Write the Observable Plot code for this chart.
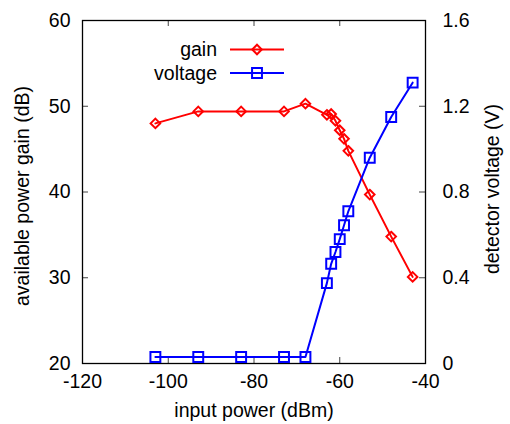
<!DOCTYPE html>
<html><head><meta charset="utf-8">
<script src="https://cdn.jsdelivr.net/npm/d3@7"></script>
<script src="https://cdn.jsdelivr.net/npm/@observablehq/plot@0.6"></script>
<style>body{margin:0;background:#fff}</style>
</head><body><div id="chart"></div>
<script>
// Data
const inputPower = [-103, -93, -83, -73, -68, -63, -62, -61, -60, -59, -58, -53, -48, -43];
const gain =       [48.0, 49.4, 49.4, 49.4, 50.3, 49.0, 49.1, 48.3, 47.2, 46.2, 44.8, 39.7, 34.8, 30.1];
const voltage =    [0.03, 0.03, 0.03, 0.03, 0.03, 0.375, 0.465, 0.52, 0.58, 0.645, 0.71, 0.96, 1.15, 1.31];
const xTicks = [-120, -100, -80, -60, -40];
const gainTicks = [20, 30, 40, 50, 60];
const voltTicks = [0, 0.4, 0.8, 1.2, 1.6];
const seriesNames = ["gain", "voltage"];
const xLabel = "input power (dBm)";
const yLabel = "available power gain (dB)";
const y2Label = "detector voltage (V)";

// voltage axis [0,1.6] mapped onto gain axis [20,60]
const toGainUnits = v => 20 + v * 25;
const fromGainUnits = g => (g - 20) / 25;
const fmtV = v => Math.abs(v) < 1e-9 ? "0" : (Math.round(v * 10) / 10).toFixed(1);

const data = inputPower.map((x, i) => ({x, gain: gain[i], v: toGainUnits(voltage[i])}));

const W = 510, H = 424, mL = 82, mR = 85, mT = 20, mB = 61;
const pw = W - mL - mR, ph = H - mT - mB;
const tk = 6;
const FS = 19.5;
const font = "'Liberation Sans', Arial, Helvetica, sans-serif";

const chart = Plot.plot({
  width: W, height: H,
  marginLeft: mL, marginRight: mR, marginTop: mT, marginBottom: mB,
  style: {fontFamily: font, fontSize: FS + "px", background: "white", color: "black", overflow: "visible"},
  x: {domain: [-120, -40]},
  y: {domain: [20, 60]},
  marks: [
    Plot.ruleY(gainTicks, {insetRight: pw - tk, stroke: "#444"}),
    Plot.ruleY(gainTicks, {insetLeft: pw - tk, stroke: "#444"}),
    Plot.ruleX(xTicks, {insetTop: ph - tk, stroke: "#444"}),
    Plot.ruleX(xTicks, {insetBottom: ph - tk, stroke: "#444"}),
    Plot.frame({stroke: "black", strokeWidth: 1.3}),
    Plot.axisX({ticks: xTicks, tickFormat: d => String(d), tickSize: 0, tickPadding: 11, label: null, fontSize: FS}),
    Plot.axisY({anchor: "left", ticks: gainTicks, tickFormat: d => String(d), tickSize: 0, tickPadding: 12, label: null, fontSize: FS}),
    Plot.axisY({anchor: "right", ticks: voltTicks.map(toGainUnits), tickFormat: d => fmtV(fromGainUnits(d)),
                tickSize: 0, tickPadding: 17, label: null, fontSize: FS}),
    Plot.line(data, {x: "x", y: "gain", stroke: "#ff0000", strokeWidth: 2}),
    Plot.dot(data, {x: "x", y: "gain", symbol: "diamond2", r: 4.3, stroke: "#ff0000", strokeWidth: 2}),
    Plot.line(data, {x: "x", y: "v", stroke: "#0000ff", strokeWidth: 2}),
    Plot.dot(data, {x: "x", y: "v", symbol: "square2", r: 6.3, stroke: "#0000ff", strokeWidth: 2}),
    Plot.text([xLabel], {text: d => d, frameAnchor: "bottom", dy: 47, lineAnchor: "middle", fontSize: FS}),
    Plot.text([yLabel], {text: d => d, frameAnchor: "left", dx: -60, dy: 4, rotate: -90, lineAnchor: "middle", textAnchor: "middle", fontSize: FS}),
    Plot.text([y2Label], {text: d => d, frameAnchor: "right", dx: 67, dy: -3, rotate: -90, lineAnchor: "middle", textAnchor: "middle", fontSize: FS})
  ]
});

// Legend
const svg = d3.select(chart);
const legendItems = [
  {name: seriesNames[0], color: "#ff0000", symbol: d3.symbolDiamond2, r: 4.3},
  {name: seriesNames[1], color: "#0000ff", symbol: d3.symbolSquare2, r: 6.3}
];
const lg = svg.append("g").attr("font-family", font).attr("font-size", FS);
legendItems.forEach((it, i) => {
  const y = 49.5 + i * 23.5;
  lg.append("text").attr("x", 217).attr("y", y).attr("dy", "0.35em").attr("text-anchor", "end").attr("fill", "black").text(it.name);
  lg.append("line").attr("x1", 230).attr("x2", 284).attr("y1", y).attr("y2", y).attr("stroke", it.color).attr("stroke-width", 2);
  lg.append("path").attr("transform", `translate(257,${y})`)
    .attr("d", d3.symbol(it.symbol, Math.PI * it.r * it.r)())
    .attr("fill", "none").attr("stroke", it.color).attr("stroke-width", 2);
});

document.getElementById("chart").appendChild(chart);
</script>
</body></html>
